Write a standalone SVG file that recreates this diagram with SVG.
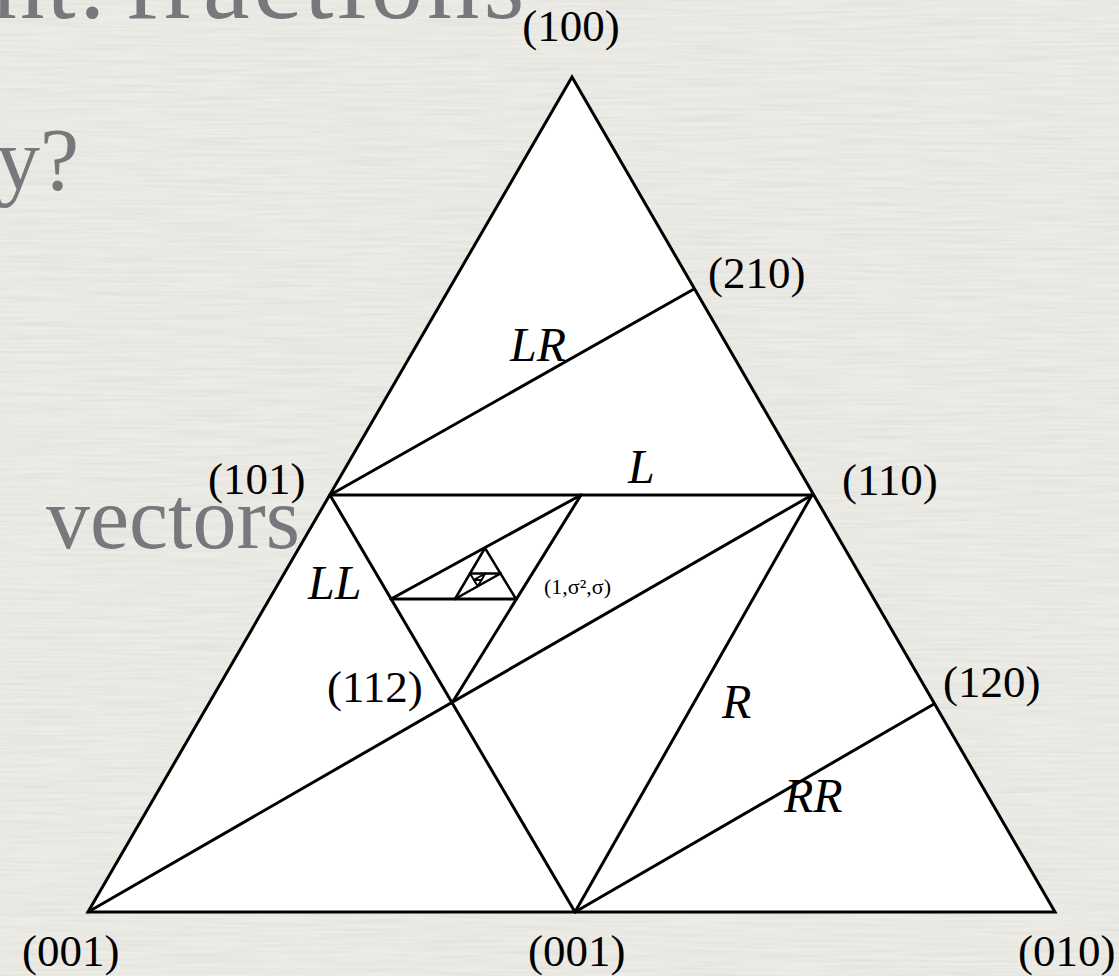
<svg xmlns="http://www.w3.org/2000/svg" width="1119" height="976" viewBox="0 0 1119 976">
  <defs>
    <filter id="paper" x="0" y="0" width="100%" height="100%">
      <feTurbulence type="fractalNoise" baseFrequency="0.012 0.35" numOctaves="2" seed="7" result="n"/>
      <feColorMatrix in="n" type="matrix" values="0 0 0 0 0.45  0 0 0 0 0.45  0 0 0 0 0.42  0.35 0 0 0 -0.13"/>
    </filter>
    <style>
      .bg-text { font-family: "Liberation Serif", "DejaVu Serif", serif; fill: #76787b; }
      .edge { stroke: #000; stroke-width: 3; fill: none; stroke-linecap: round; }
      .fine { stroke: #000; stroke-width: 2.5; fill: none; stroke-linecap: round; }
      .tiny { stroke: #000; stroke-width: 2; fill: none; stroke-linecap: round; }
      .lbl { font-family: "Liberation Serif", "Times New Roman", serif; font-size: 45px; fill: #000; }
      .it { font-family: "Liberation Serif", "Times New Roman", serif; font-size: 48px; font-style: italic; fill: #000; }
      .small { font-family: "Liberation Serif", "Times New Roman", serif; font-size: 22px; fill: #000; }
    </style>
  </defs>

  <!-- paper background -->
  <rect x="0" y="0" width="1119" height="976" fill="#ecebe6"/>
  <rect x="0" y="0" width="1119" height="976" filter="url(#paper)"/>

  <!-- slide text behind the figure -->
  <g id="slide-text">
    <text class="bg-text" x="-8" y="18" font-size="105" letter-spacing="2">nt:</text>
    <text class="bg-text" x="125" y="18" font-size="105" letter-spacing="4">fractions</text>
    <text class="bg-text" x="-4" y="189" font-size="88">y?</text>
    <text class="bg-text" x="300" y="548" font-size="88" text-anchor="end">vectors</text>
  </g>

  <!-- white triangle -->
  <g id="triangle">
    <polygon points="572,77 88,912 1055,912" fill="#fff" stroke="#000" stroke-width="3" stroke-linejoin="miter"/>
  </g>

  <g id="connectors">
    <line class="edge" x1="330" y1="495" x2="812" y2="495"/>
    <line class="edge" x1="330" y1="495" x2="694" y2="289"/>
    <line class="edge" x1="330" y1="495" x2="575" y2="912"/>
    <line class="edge" x1="812" y1="495" x2="575" y2="912"/>
    <line class="edge" x1="812" y1="495" x2="88" y2="912"/>
    <line class="edge" x1="575" y1="912" x2="934" y2="704"/>
    <line class="edge" x1="452" y1="703" x2="581" y2="495"/>
    <line class="edge" x1="391" y1="599" x2="516" y2="599"/>
    <line class="edge" x1="391" y1="599" x2="581" y2="495"/>
    <line class="fine" x1="485" y1="548" x2="455" y2="599"/>
    <line class="fine" x1="485" y1="548" x2="516" y2="599"/>
    <line class="fine" x1="470" y1="573.5" x2="500.5" y2="573.5"/>
    <line class="fine" x1="500.5" y1="573.5" x2="455" y2="599"/>
    <line class="tiny" x1="477.75" y1="586.25" x2="485.25" y2="573.5"/>
    <line class="tiny" x1="477.75" y1="586.25" x2="470" y2="573.5"/>
    <line class="tiny" x1="473.9" y1="579.9" x2="481.5" y2="579.9"/>
    <line class="tiny" x1="473.9" y1="579.9" x2="485.25" y2="573.5"/>
  </g>

  <g id="label-100"><text class="lbl" x="571" y="41" text-anchor="middle">(100)</text></g>
  <g id="label-210"><text class="lbl" x="708" y="288">(210)</text></g>
  <g id="label-LR"><text class="it" x="510" y="361">LR</text></g>
  <g id="label-L"><text class="it" x="628" y="483">L</text></g>
  <g id="label-101"><text class="lbl" x="208" y="494">(101)</text></g>
  <g id="label-110"><text class="lbl" x="842" y="495">(110)</text></g>
  <g id="label-LL"><text class="it" x="308" y="599">LL</text></g>
  <g id="label-sigma"><text class="small" x="544" y="594">(1,σ²,σ)</text></g>
  <g id="label-112"><text class="lbl" x="327" y="702">(112)</text></g>
  <g id="label-R"><text class="it" x="722" y="718">R</text></g>
  <g id="label-120"><text class="lbl" x="943" y="697">(120)</text></g>
  <g id="label-RR"><text class="it" x="784" y="812">RR</text></g>
  <g id="label-001a"><text class="lbl" x="22" y="966">(001)</text></g>
  <g id="label-001b"><text class="lbl" x="528" y="966">(001)</text></g>
  <g id="label-010"><text class="lbl" x="1018" y="966">(010)</text></g>
</svg>
